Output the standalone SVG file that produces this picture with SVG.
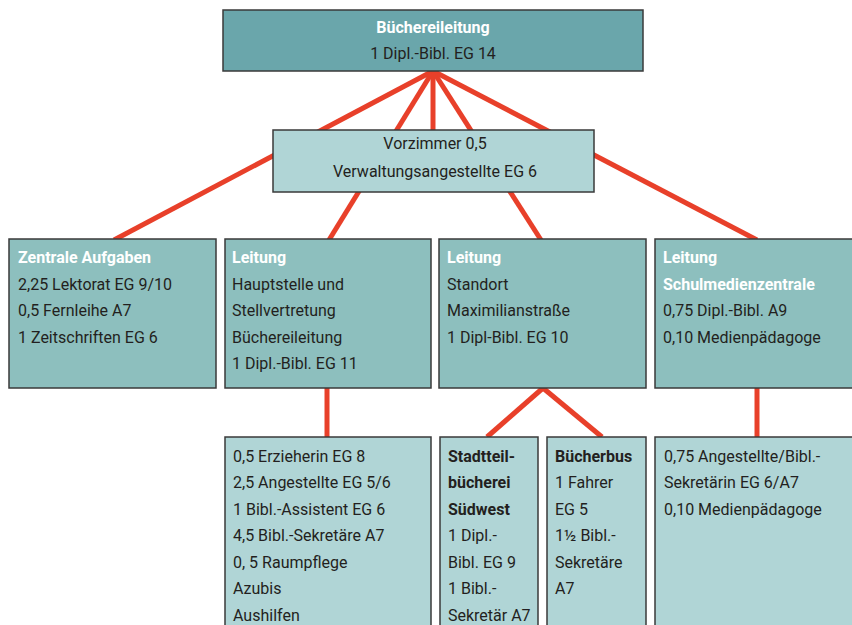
<svg xmlns="http://www.w3.org/2000/svg" width="852" height="625" viewBox="0 0 852 625">
<style>
text{font-family:Roboto,"Liberation Sans",sans-serif;font-size:16px;fill:#231f20}
.w{fill:#fff;font-weight:bold}
.b{font-weight:bold}
.c{text-anchor:middle}
.box{stroke:#3a3a3a;stroke-width:1.5}
.dark{fill:#6aa6ab}
.mid{fill:#8dbfbe}
.light{fill:#b0d5d6}
.conn line{stroke:#e8402a;stroke-width:5;stroke-linecap:butt}
</style>
<rect width="852" height="625" fill="#fff"/>
<g class="conn" id="connectors">
<line x1="433" y1="71" x2="114" y2="240"/>
<line x1="433" y1="71" x2="329" y2="240"/>
<line x1="433" y1="71" x2="433" y2="130"/>
<line x1="433" y1="71" x2="541" y2="240"/>
<line x1="433" y1="71" x2="757" y2="240"/>
<line x1="327" y1="388" x2="327" y2="437"/>
<line x1="543" y1="388" x2="487" y2="437"/>
<line x1="543" y1="388" x2="602" y2="437"/>
<line x1="757" y1="388" x2="757" y2="437"/>
</g>
<g id="buechereileitung">
<rect class="box dark" x="223" y="10" width="420" height="61"/>
<text class="w c" x="433" y="33">Büchereileitung</text>
<text class="c" x="433" y="59">1 Dipl.-Bibl. EG 14</text>
</g>
<g id="vorzimmer">
<rect class="box light" x="273" y="130" width="321" height="62"/>
<text class="c" x="435" y="149">Vorzimmer 0,5</text>
<text class="c" x="435" y="177">Verwaltungsangestellte EG 6</text>
</g>
<g id="zentrale">
<rect class="box mid" x="9" y="239" width="207" height="149"/>
<text class="w" x="18" y="263">Zentrale Aufgaben</text>
<text x="18" y="290">2,25 Lektorat EG 9/10</text>
<text x="18" y="316">0,5 Fernleihe A7</text>
<text x="18" y="343">1 Zeitschriften EG 6</text>
</g>
<g id="hauptstelle">
<rect class="box mid" x="225" y="239" width="206" height="149"/>
<text class="w" x="232" y="263">Leitung</text>
<text x="232" y="290">Hauptstelle und</text>
<text x="232" y="316">Stellvertretung</text>
<text x="232" y="343">Büchereileitung</text>
<text x="232" y="369">1 Dipl.-Bibl. EG 11</text>
</g>
<g id="standort">
<rect class="box mid" x="439" y="239" width="207" height="149"/>
<text class="w" x="447" y="263">Leitung</text>
<text x="447" y="290">Standort</text>
<text x="447" y="316">Maximilianstraße</text>
<text x="447" y="343">1 Dipl-Bibl. EG 10</text>
</g>
<g id="schulmedien">
<rect class="box mid" x="655" y="239" width="210" height="149"/>
<text class="w" x="663" y="263">Leitung</text>
<text class="w" x="663" y="290">Schulmedienzentrale</text>
<text x="663" y="316">0,75 Dipl.-Bibl. A9</text>
<text x="663" y="343">0,10 Medienpädagoge</text>
</g>
<g id="hauptstelle-team">
<rect class="box light" x="225" y="437" width="206" height="200"/>
<text x="233" y="462">0,5 Erzieherin EG 8</text>
<text x="233" y="488">2,5 Angestellte EG 5/6</text>
<text x="233" y="515">1 Bibl.-Assistent EG 6</text>
<text x="233" y="541">4,5 Bibl.-Sekretäre A7</text>
<text x="233" y="568">0, 5 Raumpflege</text>
<text x="233" y="594">Azubis</text>
<text x="233" y="621">Aushilfen</text>
</g>
<g id="suedwest">
<rect class="box light" x="440" y="437" width="98" height="200"/>
<text class="b" x="448" y="462">Stadtteil-</text>
<text class="b" x="448" y="488">bücherei</text>
<text class="b" x="448" y="515">Südwest</text>
<text x="448" y="541">1 Dipl.-</text>
<text x="448" y="568">Bibl. EG 9</text>
<text x="448" y="594">1 Bibl.-</text>
<text x="448" y="621">Sekretär A7</text>
</g>
<g id="buecherbus">
<rect class="box light" x="547" y="437" width="99" height="200"/>
<text class="b" x="555" y="462">Bücherbus</text>
<text x="555" y="488">1 Fahrer</text>
<text x="555" y="515">EG 5</text>
<text x="555" y="541">1½ Bibl.-</text>
<text x="555" y="568">Sekretäre</text>
<text x="555" y="594">A7</text>
</g>
<g id="schulmedien-team">
<rect class="box light" x="655" y="437" width="210" height="200"/>
<text x="664" y="462">0,75 Angestellte/Bibl.-</text>
<text x="664" y="488">Sekretärin EG 6/A7</text>
<text x="664" y="515">0,10 Medienpädagoge</text>
</g>
</svg>
